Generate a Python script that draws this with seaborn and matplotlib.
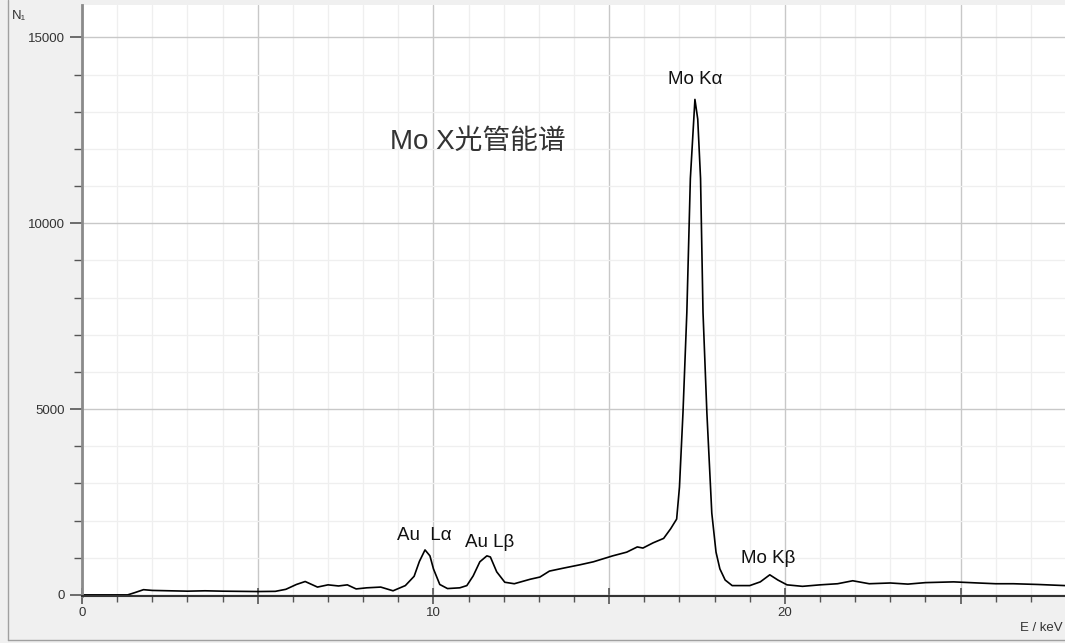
import pandas as pd
import numpy as np
import matplotlib.pyplot as plt
import seaborn as sns
from matplotlib.ticker import MultipleLocator, FuncFormatter
from matplotlib.lines import Line2D

# Spektrum (E in keV, Zaehlrate N1)
energie = [0.0, 1.3, 1.5, 1.75, 2.0, 2.5, 3.0, 3.5, 4.0, 4.5, 5.0, 5.5, 5.8,
           6.1, 6.35, 6.7, 7.0, 7.3, 7.55, 7.8, 8.1, 8.5, 8.85, 9.2, 9.45,
           9.6, 9.76, 9.9, 10.0, 10.18, 10.4, 10.75, 10.95, 11.13, 11.32,
           11.52, 11.62, 11.8, 12.03, 12.3, 12.75, 13.03, 13.3, 13.7, 14.17,
           14.55, 15.1, 15.5, 15.8, 15.96, 16.25, 16.55, 16.75, 16.92, 17.0,
           17.1, 17.21, 17.31, 17.44, 17.52, 17.6, 17.67, 17.78, 17.92, 18.04,
           18.15, 18.3, 18.5, 19.0, 19.3, 19.57, 19.8, 20.06, 20.5, 21.0,
           21.5, 21.93, 22.4, 23.0, 23.5, 24.0, 24.8, 25.5, 26.0, 26.5,
           27.2, 27.97]
zaehlung = [0, 0, 60, 140, 120, 110, 100, 110, 100, 95, 90, 95, 150,
            280, 360, 210, 270, 240, 270, 160, 190, 210, 110, 250, 500,
            900, 1210, 1050, 700, 280, 170, 190, 250, 510, 890,
            1050, 1020, 620, 340, 300, 420, 480, 640, 720, 810,
            890, 1050, 1150, 1290, 1260, 1400, 1520, 1780, 2040, 2900,
            4900, 7600, 11200, 13330, 12800, 11200, 7600, 4900, 2200, 1150,
            700, 400, 250, 250, 350, 540, 400, 270, 230, 270,
            300, 380, 300, 320, 290, 330, 350, 320, 300, 300,
            280, 250]

peak_namen = ["Mo K\u03b1", "Au  L\u03b1", "Au L\u03b2", "Mo K\u03b2"]
peak_x = [17.44, 9.73, 11.6, 19.52]
peak_y = [13870, 1590, 1420, 970]

veri = pd.DataFrame({"E": energie, "N": zaehlung})

sns.set_style("white")
plt.rcParams["font.family"] = ["Liberation Sans", "Noto Sans CJK SC", "DejaVu Sans"]

fig = plt.figure(figsize=(10.65, 6.43), dpi=100, facecolor="#f0f0f0")
ax = fig.add_axes([82 / 1065, 47 / 643, 1 - 82 / 1065, 591 / 643])
ax.set_facecolor("white")

sns.lineplot(x="E", y="N", data=veri, ax=ax, color="black", linewidth=1.2)

ax.set_xlim(0, 27.97)
ax.set_ylim(-30, 15870)

# Gitter
ax.xaxis.set_major_locator(MultipleLocator(5))
ax.xaxis.set_minor_locator(MultipleLocator(1))
ax.yaxis.set_major_locator(MultipleLocator(5000))
ax.yaxis.set_minor_locator(MultipleLocator(1000))
ax.grid(which="major", color="#c8c8c8", linewidth=1.0)
ax.grid(which="minor", color="#efefef", linewidth=0.9)
ax.set_axisbelow(True)

ax.xaxis.set_major_formatter(FuncFormatter(lambda v, p: f"{v:.0f}" if v % 10 == 0 else ""))
ax.yaxis.set_major_formatter(FuncFormatter(lambda v, p: f"{v:.0f}"))

ax.tick_params(axis="x", which="major", direction="inout", length=12, width=1.2,
               color="#555555", labelsize=9.5, labelcolor="#333333", pad=2)
ax.tick_params(axis="x", which="minor", direction="out", length=4, width=1,
               color="#555555")
ax.tick_params(axis="y", which="major", direction="out", length=9, width=1.2,
               color="#555555", labelsize=9.5, labelcolor="#333333", pad=3)
ax.tick_params(axis="y", which="minor", direction="out", length=6, width=1,
               color="#555555")
ax.tick_params(bottom=True, left=True, which="both")

for s in ["top", "right"]:
    ax.spines[s].set_visible(False)
ax.spines["left"].set_color("#8a8a8a")
ax.spines["left"].set_linewidth(2)
ax.spines["bottom"].set_color("#333333")
ax.spines["bottom"].set_linewidth(1.5)

ax.set_xlabel("")
ax.set_ylabel("")

# Beschriftungen
for name, x, y in zip(peak_namen, peak_x, peak_y):
    ax.text(x, y, name, ha="center", va="center", fontsize=13.5, color="#111111")

ax.text(11.27, 12180, "Mo X\u5149\u7ba1\u80fd\u8c31", ha="center", va="center",
        fontsize=20, color="#333333")

fig.text(12 / 1065, 1 - 16 / 643, "N\u2081", fontsize=9.5, color="#333333",
         ha="left", va="center", family=["Liberation Sans", "DejaVu Sans"])
fig.text(1063 / 1065, 1 - 628 / 643, "E / keV", fontsize=9.5, color="#333333",
         ha="right", va="center")

# Rahmen des Fensters
fig.add_artist(Line2D([8 / 1065, 8 / 1065], [3 / 643, 1], color="#a0a0a0", linewidth=1))
fig.add_artist(Line2D([8 / 1065, 1], [3 / 643, 3 / 643], color="#a0a0a0", linewidth=1))

plt.savefig("out.png", dpi=100, facecolor=fig.get_facecolor())
